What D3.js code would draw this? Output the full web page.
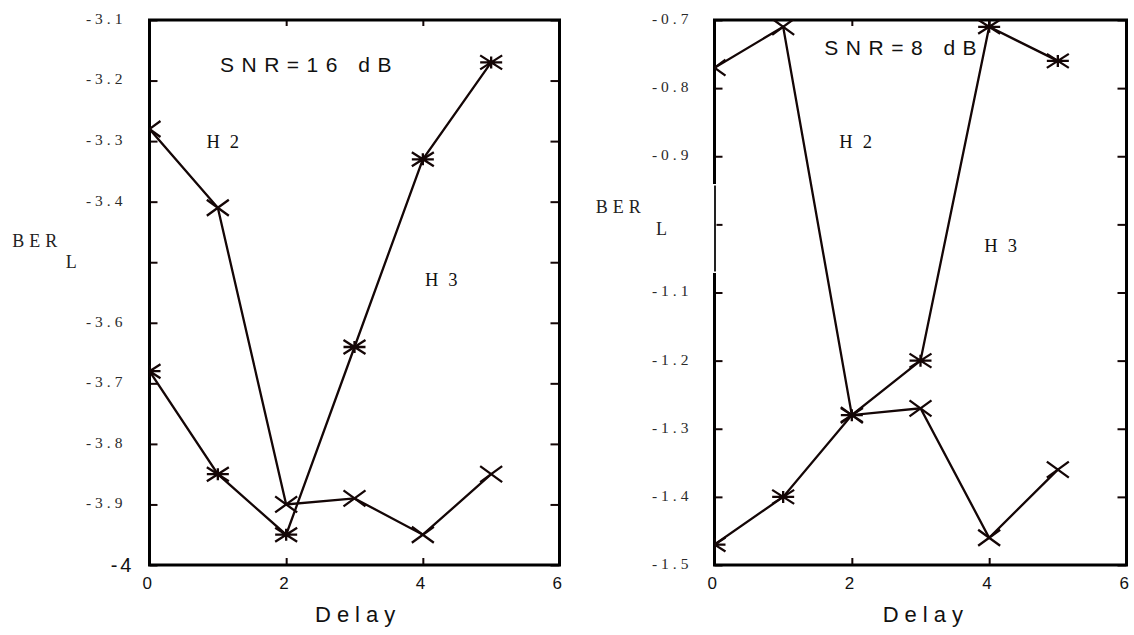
<!DOCTYPE html>
<html><head><meta charset="utf-8">
<script src="https://cdn.jsdelivr.net/npm/d3@7"></script>
<style>body{margin:0;background:#fff}</style>
</head><body><svg id="c" width="1134" height="635"></svg>
<script>
// ---- data ----
const delays = [0, 1, 2, 3, 4, 5];
const h2Snr16 = [-3.28, -3.41, -3.90, -3.89, -3.95, -3.85];
const h3Snr16 = [-3.68, -3.85, -3.95, -3.64, -3.33, -3.17];
const h2Snr8 = [-0.77, -0.71, -1.28, -1.27, -1.46, -1.36];
const h3Snr8 = [-1.47, -1.40, -1.28, -1.20, -0.71, -0.76];
const xTickValues = [0, 2, 4, 6];
const xTickLabels = ["0", "2", "4", "6"];
const yTicks16 = [-3.1, -3.2, -3.3, -3.4, -3.5, -3.6, -3.7, -3.8, -3.9, -4];
const yLabels16 = ["-3.1", "-3.2", "-3.3", "-3.4", "", "-3.6", "-3.7", "-3.8", "-3.9", "-4"];
const yTicks8 = [-0.7, -0.8, -0.9, -1.0, -1.1, -1.2, -1.3, -1.4, -1.5];
const yLabels8 = ["-0.7", "-0.8", "-0.9", "", "-1.1", "-1.2", "-1.3", "-1.4", "-1.5"];
const titles = ["SNR=16 dB", "SNR=8 dB"];
const seriesNames = ["H2", "H3"];

// ---- layout ----
const ink = "#140606";
const panels = [
  {left: 149.5, right: 559.5, top: 20, bottom: 565, yDomain: [-4, -3.1], yTicks: yTicks16, yLabels: yLabels16,
   h2: h2Snr16, h3: h3Snr16, title: titles[0], titlePos: [220, 71.5],
   h2Pos: [206.5, 148.3], h3Pos: [425, 286], berPos: [12.3, 247.3], lPos: [65.7, 268.3],
   labelPad: 23, delayX: 315},
  {left: 714.5, right: 1126.5, top: 20, bottom: 565, yDomain: [-1.5, -0.7], yTicks: yTicks8, yLabels: yLabels8,
   h2: h2Snr8, h3: h3Snr8, title: titles[1], titlePos: [824.3, 55],
   h2Pos: [839.3, 148], h3Pos: [984.3, 251.7], berPos: [595.7, 213.3], lPos: [656, 235],
   labelPad: 22, delayX: 882.7, axisGap: [184, 273]}
];

const svg = d3.select("#c");
svg.append("rect").attr("width", 1134).attr("height", 635).attr("fill", "#fff");

const xMarker = "M-11,-8L11,8M11,-8L-11,8";
const starMarker = "M-11,-7L11,7M11,-7L-11,7M-11,0L11,0M0,-6L0,6";

panels.forEach((p, pi) => {
  const x = d3.scaleLinear().domain([0, 6]).range([p.left, p.right]);
  const y = d3.scaleLinear().domain(p.yDomain).range([p.bottom, p.top]);
  const g = svg.append("g");

  const clipId = "clip" + pi;
  svg.append("defs").append("clipPath").attr("id", clipId)
    .append("rect").attr("x", p.left).attr("y", p.top)
    .attr("width", p.right - p.left).attr("height", p.bottom - p.top);

  // axes (ticks inward)
  const yAxis = d3.axisLeft(y).tickValues(p.yTicks).tickSize(-8).tickPadding(p.labelPad)
    .tickFormat((d, i) => p.yLabels[i]);
  const ya = g.append("g").attr("transform", `translate(${p.left},0)`).call(yAxis);
  ya.select(".domain").remove();
  ya.selectAll("line").attr("stroke", ink).attr("stroke-width", 2);
  ya.selectAll("text").attr("font-family", "'Liberation Serif', 'Times New Roman', serif")
    .attr("font-size", 15.5).attr("letter-spacing", "4px").attr("fill", "#2a2a2a").attr("dy", "0.22em");
  ya.selectAll(".tick").filter(d => d === -4).select("text")
    .attr("font-family", "'Liberation Sans', Arial, sans-serif").attr("font-size", 20)
    .attr("letter-spacing", "3px").attr("fill", "#111").attr("x", -15).attr("dy", "0.34em");

  const yr = g.append("g").attr("transform", `translate(${p.right},0)`)
    .call(d3.axisRight(y).tickValues(p.yTicks).tickSize(-9).tickFormat(""));
  yr.select(".domain").remove();
  yr.selectAll("line").attr("stroke", ink).attr("stroke-width", 2);

  const xt = g.append("g").attr("transform", `translate(0,${p.top})`)
    .call(d3.axisTop(x).tickValues([2, 4]).tickSize(-6).tickFormat(""));
  xt.select(".domain").remove();
  xt.selectAll("line").attr("stroke", ink).attr("stroke-width", 2);

  const xb = g.append("g").attr("transform", `translate(0,${p.bottom})`)
    .call(d3.axisBottom(x).tickValues(xTickValues).tickSize(-7).tickPadding(12)
      .tickFormat((d, i) => xTickLabels[i]));
  xb.select(".domain").remove();
  xb.selectAll("line").attr("stroke", ink).attr("stroke-width", 2);
  xb.selectAll("text").attr("font-family", "'Liberation Sans', Arial, sans-serif")
    .attr("font-size", 17).attr("fill", "#111").attr("dx", -2.8);

  // frame
  g.append("rect").attr("x", p.left).attr("y", p.top)
    .attr("width", p.right - p.left).attr("height", p.bottom - p.top)
    .attr("fill", "none").attr("stroke", "#000").attr("stroke-width", 3);
  if (p.axisGap) {
    g.append("line").attr("x1", p.left).attr("x2", p.left)
      .attr("y1", p.axisGap[0]).attr("y2", p.axisGap[1])
      .attr("stroke", "#fff").attr("stroke-width", 4);
    g.append("line").attr("x1", p.left + 0.5).attr("x2", p.left + 0.5)
      .attr("y1", p.axisGap[0] + 1.5).attr("y2", p.axisGap[1] - 1.5)
      .attr("stroke", "#222").attr("stroke-width", 2);
  }

  // data
  const plot = g.append("g").attr("clip-path", `url(#${clipId})`);
  const line = d3.line().x((d, i) => x(delays[i])).y(d => y(d));
  [[p.h2, xMarker], [p.h3, starMarker]].forEach(([vals, mk]) => {
    plot.append("path").attr("d", line(vals)).attr("fill", "none")
      .attr("stroke", ink).attr("stroke-width", 2.3);
    plot.selectAll(null).data(vals).enter().append("path")
      .attr("d", mk).attr("transform", (d, i) => `translate(${x(delays[i])},${y(d)})`)
      .attr("fill", "none").attr("stroke", ink).attr("stroke-width", 2.3);
  });

  // text
  g.append("text").attr("x", p.titlePos[0]).attr("y", p.titlePos[1]).text(p.title)
    .attr("font-family", "'Liberation Sans', Arial, sans-serif").attr("font-size", 21)
    .attr("letter-spacing", "7.5px").attr("fill", "#111");
  const serif = "'Liberation Serif', 'Times New Roman', serif";
  g.append("text").attr("x", p.h2Pos[0]).attr("y", p.h2Pos[1]).text(seriesNames[0])
    .attr("font-family", serif).attr("font-size", 18.5).attr("letter-spacing", "10px").attr("fill", "#111");
  g.append("text").attr("x", p.h3Pos[0]).attr("y", p.h3Pos[1]).text(seriesNames[1])
    .attr("font-family", serif).attr("font-size", 18.5).attr("letter-spacing", "10px").attr("fill", "#111");
  g.append("text").attr("x", p.berPos[0]).attr("y", p.berPos[1]).text("BER")
    .attr("font-family", serif).attr("font-size", 18).attr("letter-spacing", "5px").attr("fill", "#222");
  g.append("text").attr("x", p.lPos[0]).attr("y", p.lPos[1]).text("L")
    .attr("font-family", serif).attr("font-size", 18).attr("fill", "#222");
  g.append("text").attr("x", p.delayX).attr("y", 621.5).text("Delay")
    .attr("font-family", "'Liberation Sans', Arial, sans-serif").attr("font-size", 22)
    .attr("letter-spacing", "6px").attr("fill", "#111");
});
</script>
</body></html>
